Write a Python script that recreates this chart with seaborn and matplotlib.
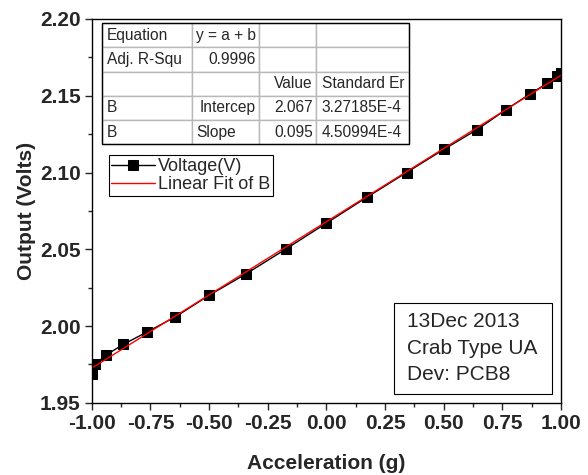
import numpy as np
import pandas as pd
import matplotlib
matplotlib.use("Agg")
import matplotlib.pyplot as plt
from matplotlib.patches import Rectangle
from matplotlib.ticker import MultipleLocator, FormatStrFormatter
import seaborn as sns

# Data
accel = [-1.0, -0.985, -0.94, -0.866, -0.766, -0.643, -0.5, -0.342, -0.174, 0.0,
         0.174, 0.342, 0.5, 0.643, 0.766, 0.866, 0.94, 0.985, 1.0]
voltage = [1.969, 1.975, 1.981, 1.988, 1.996, 2.006, 2.020, 2.034, 2.050, 2.067,
           2.084, 2.100, 2.115, 2.128, 2.141, 2.151, 2.158, 2.163, 2.165]

table_rows = [
    ["Equation", "y = a + b", "", ""],
    ["Adj. R-Squ", "0.9996", "", ""],
    ["", "", "Value", "Standard Er"],
    ["B", "Intercep", "2.067", "3.27185E-4"],
    ["B", "Slope", "0.095", "4.50994E-4"],
]
note_lines = ["13Dec 2013", "Crab Type UA", "Dev: PCB8"]

df = pd.DataFrame({"accel": accel, "voltage": voltage})

sns.set_style("ticks")
plt.rcParams["font.family"] = ["Liberation Sans", "DejaVu Sans"]

fig = plt.figure(figsize=(5.88, 4.75), dpi=100)
ax = fig.add_axes([0.156, 0.152, 0.798, 0.808])

sns.lineplot(data=df, x="accel", y="voltage", ax=ax, color="black", lw=1,
             marker="s", markersize=6.5, markeredgecolor="black",
             label="Voltage(V)")
sns.regplot(data=df, x="accel", y="voltage", ax=ax, scatter=False, ci=None,
            color="red", line_kws={"lw": 1}, label="Linear Fit of B")

ax.set_xlim(-1.0, 1.0)
ax.set_ylim(1.95, 2.20)
ax.xaxis.set_major_locator(MultipleLocator(0.25))
ax.xaxis.set_minor_locator(MultipleLocator(0.125))
ax.yaxis.set_major_locator(MultipleLocator(0.05))
ax.yaxis.set_minor_locator(MultipleLocator(0.025))
ax.xaxis.set_major_formatter(FormatStrFormatter("%.2f"))
ax.yaxis.set_major_formatter(FormatStrFormatter("%.2f"))
ax.tick_params(which="major", direction="out", length=5, width=1,
               labelsize=15, pad=3)
ax.tick_params(which="minor", direction="out", length=3, width=1)
for lab in ax.get_xticklabels() + ax.get_yticklabels():
    lab.set_fontweight("bold")
for s in ax.spines.values():
    s.set_visible(True)
    s.set_color("black")
    s.set_linewidth(1)

ax.set_xlabel("Acceleration (g)", fontsize=15, fontweight="bold", labelpad=15)
ax.set_ylabel("Output (Volts)", fontsize=15, fontweight="bold", labelpad=3)

leg = ax.legend(loc="upper left", bbox_to_anchor=(0.036, 0.645), fontsize=13,
                frameon=True, fancybox=False, framealpha=1, edgecolor="black",
                borderpad=0.15, handlelength=2.4, handletextpad=0.2,
                labelspacing=0.05, borderaxespad=0)
leg.get_frame().set_linewidth(0.8)

# fit table
tb_box = [0.0213, 0.674, 0.655, 0.315]
tbl = ax.table(cellText=table_rows, cellLoc="left",
               colWidths=[90, 67.6, 56.7, 93], bbox=tb_box)
tbl.auto_set_font_size(False)
tbl.set_fontsize(11.2)
for (r, c), cell in tbl.get_celld().items():
    cell.set_edgecolor("#b8b8b8")
    cell.set_linewidth(1)
    cell.PAD = 0.06
    if (r, c) in [(1, 1), (2, 2), (3, 1), (3, 2), (4, 2)]:
        cell._loc = "right"
        cell.get_text().set_horizontalalignment("right")
ax.add_patch(Rectangle((tb_box[0], tb_box[1]), tb_box[2], tb_box[3],
                       transform=ax.transAxes, fill=False, ec="black",
                       lw=1, zorder=10))

# annotation box
ax.add_patch(Rectangle((0.644, 0.023), 0.337, 0.237, transform=ax.transAxes,
                       fill=False, ec="black", lw=0.8, zorder=10))
ax.text(0.672, 0.142, "\n".join(note_lines), transform=ax.transAxes,
        fontsize=15, va="center", ha="left", linespacing=1.5)

fig.savefig("out.png", dpi=100)
